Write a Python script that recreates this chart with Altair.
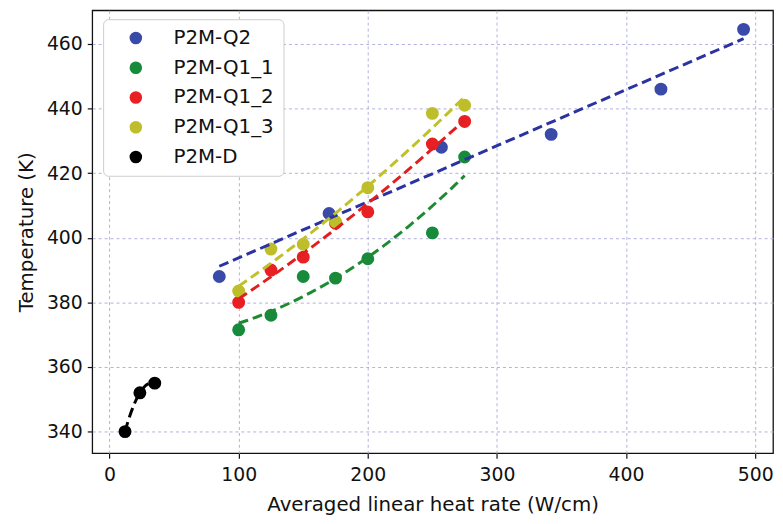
import altair as alt
import pandas as pd

series = ["P2M-Q2", "P2M-Q1_1", "P2M-Q1_2", "P2M-Q1_3", "P2M-D"]

q2_x = [85, 170, 257, 342, 427, 491]
q2_y = [388, 407.5, 428, 432, 446, 464.5]

q1_1_x = [100, 125, 150, 175, 200, 250, 275]
q1_1_y = [371.5, 376, 388, 387.5, 393.5, 401.5, 425]

q1_2_x = [100, 125, 150, 175, 200, 250, 275]
q1_2_y = [380, 390, 394, 404.5, 408, 429, 436]

q1_3_x = [100, 125, 150, 175, 200, 250, 275]
q1_3_y = [383.5, 396.5, 398, 405, 415.5, 438.5, 441]

d_x = [12, 23.5, 35]
d_y = [340, 352, 355]

x_ticks = [0, 100, 200, 300, 400, 500]
y_ticks = [340, 360, 380, 400, 420, 440, 460]

point_colors = ["#3a4aa8", "#178a3c", "#e82024", "#bebe2a", "#000000"]
line_colors = ["#2b32a2", "#1e8a32", "#e02020", "#c0c028", "#000000"]
fit_methods = ["linear", "poly", "poly", "poly", "poly"]

xs = [q2_x, q1_1_x, q1_2_x, q1_3_x, d_x]
ys = [q2_y, q1_1_y, q1_2_y, q1_3_y, d_y]
rows = []
for s, xv, yv in zip(series, xs, ys):
    for a, b in zip(xv, yv):
        rows.append({"series": s, "x": a, "y": b})
df = pd.DataFrame(rows)

FONT = "DejaVu Sans"
x_scale = alt.Scale(domain=[-13.4, 513.8], nice=False, zero=False)
y_scale = alt.Scale(domain=[333.3, 470.4], nice=False, zero=False)

x_axis = alt.Axis(values=x_ticks, title="Averaged linear heat rate (W/cm)", format="d")
y_axis = alt.Axis(values=y_ticks, title="Temperature (K)", format="d")

base = alt.Chart(df)

points = base.mark_circle(size=170, opacity=1).encode(
    x=alt.X("x:Q", scale=x_scale, axis=x_axis),
    y=alt.Y("y:Q", scale=y_scale, axis=y_axis),
    color=alt.Color(
        "series:N",
        scale=alt.Scale(domain=series, range=point_colors),
        legend=alt.Legend(
            title=None,
            orient="none",
            legendX=11,
            legendY=9,
            padding=9,
            strokeColor="#cccccc",
            fillColor="white",
            cornerRadius=5,
            labelFont=FONT,
            labelFontSize=20,
            labelColor="#111111",
            symbolType="circle",
            symbolSize=160,
            symbolStrokeWidth=0,
            symbolOffset=14,
            labelOffset=28,
            rowPadding=10,
        ),
    ),
)

layers = [points]
for s, c, m in zip(series, line_colors, fit_methods):
    if m == "linear":
        t = base.transform_filter(alt.datum.series == s).transform_regression("x", "y", method="linear")
    else:
        t = base.transform_filter(alt.datum.series == s).transform_regression("x", "y", method="poly", order=2)
    layers.append(
        t.mark_line(strokeDash=[10, 5], strokeWidth=3, color=c, clip=True).encode(
            x=alt.X("x:Q", scale=x_scale),
            y=alt.Y("y:Q", scale=y_scale),
        )
    )

chart = (
    alt.layer(*layers)
    .properties(
        width=687,
        height=447,
        autosize=alt.AutoSizeParams(type="none"),
        padding={"left": 85, "top": 0, "right": 2, "bottom": 60},
    )
    .configure_view(stroke="#111111", strokeWidth=1.3)
    .configure_axis(
        domain=False,
        grid=True,
        gridColor="#b0b0e0",
        gridDash=[3, 3],
        gridWidth=1,
        tickColor="#111111",
        tickSize=5,
        tickWidth=1.2,
        labelFont=FONT,
        labelFontSize=19,
        labelColor="#111111",
        labelPadding=5,
        titleFont=FONT,
        titleFontSize=20,
        titleFontWeight="normal",
        titleColor="#111111",
    )
    .configure_axisY(titlePadding=10)
    .configure_axisX(titlePadding=11, labelPadding=7)
)

chart.save("out.html", embed_options={"renderer": "svg", "actions": False})
